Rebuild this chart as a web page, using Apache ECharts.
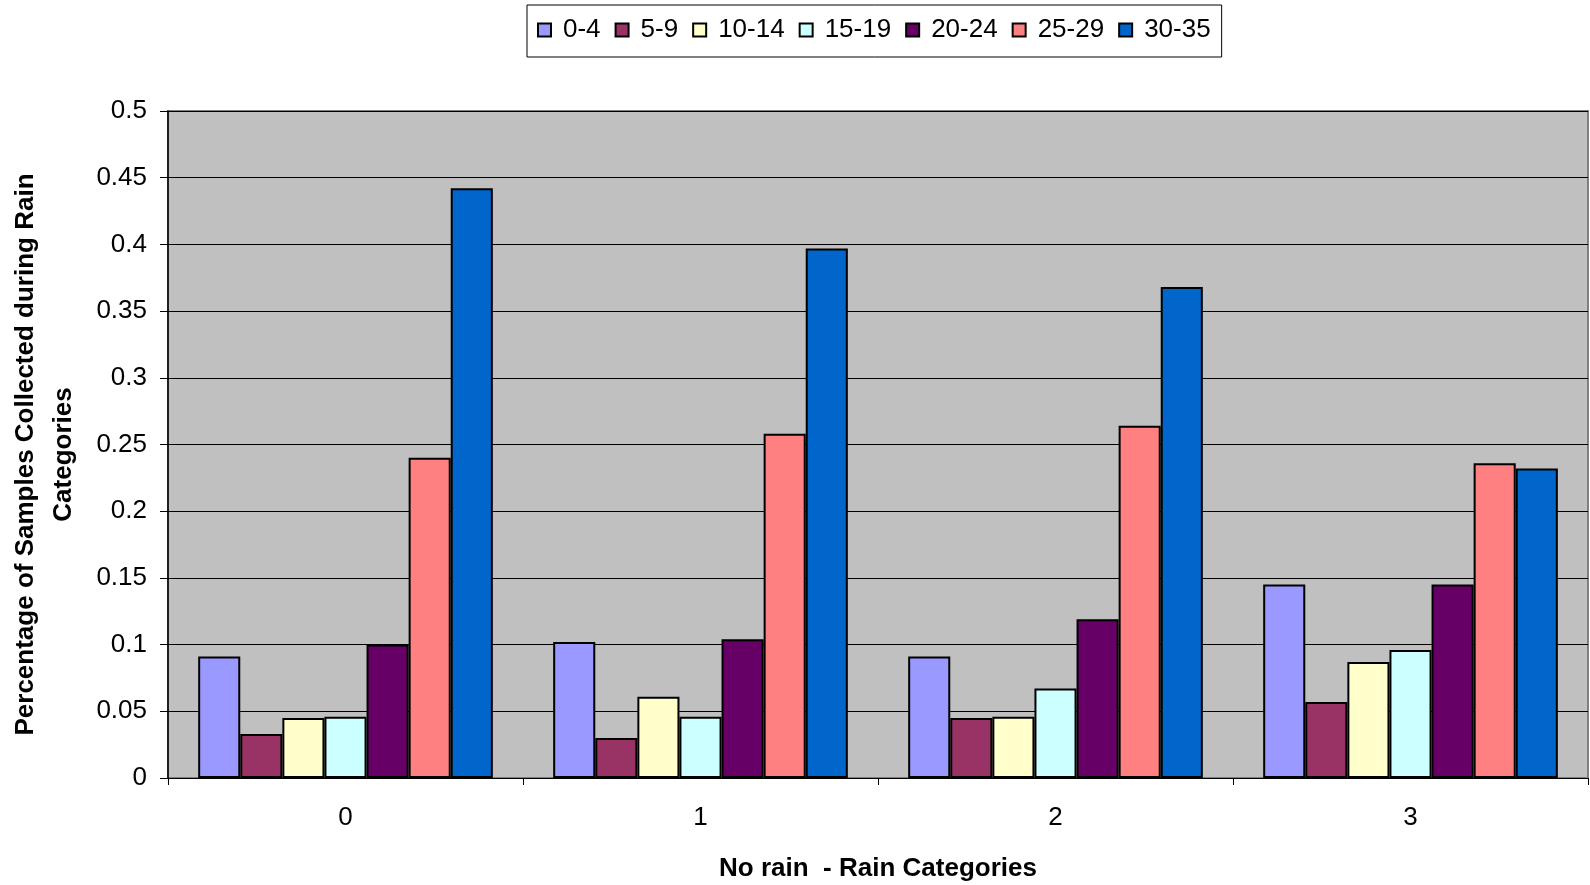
<!DOCTYPE html>
<html>
<head>
<meta charset="utf-8">
<script src="https://cdn.jsdelivr.net/npm/echarts@6/dist/echarts.min.js"></script>
<style>
  html, body { margin: 0; padding: 0; background: #ffffff; }
  #chart { width: 1590px; height: 885px; }
</style>
</head>
<body>
<div id="chart"></div>
<script>
// Rain categories on the x axis
const categories = ['0', '1', '2', '3'];

// Age groups (one series each) and their fill colours
const groups = ['0-4', '5-9', '10-14', '15-19', '20-24', '25-29', '30-35'];
const groupColors = ['#9999FF', '#993366', '#FFFFCC', '#CCFFFF', '#660066', '#FF8080', '#0066CC'];

// Share of samples per rain category, one array per age group
const v0_4   = [0.091, 0.102, 0.091, 0.145];
const v5_9   = [0.033, 0.030, 0.045, 0.057];
const v10_14 = [0.045, 0.061, 0.046, 0.087];
const v15_19 = [0.046, 0.046, 0.067, 0.096];
const v20_24 = [0.100, 0.104, 0.119, 0.145];
const v25_29 = [0.240, 0.258, 0.264, 0.236];
const v30_35 = [0.442, 0.397, 0.368, 0.232];
const values = [v0_4, v5_9, v10_14, v15_19, v20_24, v25_29, v30_35];

// Value axis ticks
const yMin = 0, yMax = 0.5, yStep = 0.05;

const font = 'Arial, "Liberation Sans", sans-serif';

const chart = echarts.init(document.getElementById('chart'), null, { renderer: 'canvas' });

chart.setOption({
  animation: false,
  backgroundColor: '#ffffff',
  textStyle: { fontFamily: font },
  legend: {
    data: groups,
    left: 527,
    top: 5,
    padding: [12, 11, 14, 10],
    itemGap: 14,
    itemWidth: 13,
    itemHeight: 13,
    icon: 'rect',
    borderColor: '#000000',
    borderWidth: 1,
    backgroundColor: '#ffffff',
    textStyle: { fontSize: 26, color: '#000000', fontFamily: font, padding: [0, 0, 0, 7] },
    itemStyle: { borderColor: '#000000', borderWidth: 2 }
  },
  grid: {
    left: 168,
    right: 2,
    top: 111,
    bottom: 107,
    outerBoundsMode: 'none',
    containLabel: false,
    show: true,
    backgroundColor: '#C0C0C0',
    borderColor: '#808080',
    borderWidth: 2
  },
  xAxis: {
    type: 'category',
    data: categories,
    name: 'No rain  - Rain Categories',
    nameLocation: 'middle',
    nameGap: 78,
    nameMoveOverlap: false,
    nameTextStyle: { fontSize: 26, fontWeight: 'bold', color: '#000000', fontFamily: font },
    axisLine: { show: true, lineStyle: { color: '#000000', width: 1 } },
    axisTick: { show: true, length: 7, lineStyle: { color: '#000000' } },
    axisLabel: { fontSize: 26, color: '#000000', margin: 27, fontFamily: font },
    splitLine: { show: false }
  },
  yAxis: {
    type: 'value',
    min: yMin,
    max: yMax,
    interval: yStep,
    name: 'Percentage of Samples Collected during Rain\nCategories',
    nameLocation: 'middle',
    nameGap: 85,
    nameMoveOverlap: false,
    nameRotate: 90,
    nameTextStyle: { fontSize: 26, fontWeight: 'bold', color: '#000000', lineHeight: 38, align: 'center', fontFamily: font, padding: [0, 20, 0, 0] },
    axisLine: { show: true, lineStyle: { color: '#000000', width: 1.5 } },
    axisTick: { show: true, length: 8, lineStyle: { color: '#000000' } },
    axisLabel: { fontSize: 26, color: '#000000', margin: 21, fontFamily: font },
    splitLine: { show: true, lineStyle: { color: '#000000', width: 1 } }
  },
  series: groups.map((g, i) => ({
    name: g,
    type: 'bar',
    data: values[i],
    barGap: '0%',
    barCategoryGap: '17%',
    itemStyle: { color: groupColors[i], borderColor: '#000000', borderWidth: 2 }
  }))
});
</script>
</body>
</html>
